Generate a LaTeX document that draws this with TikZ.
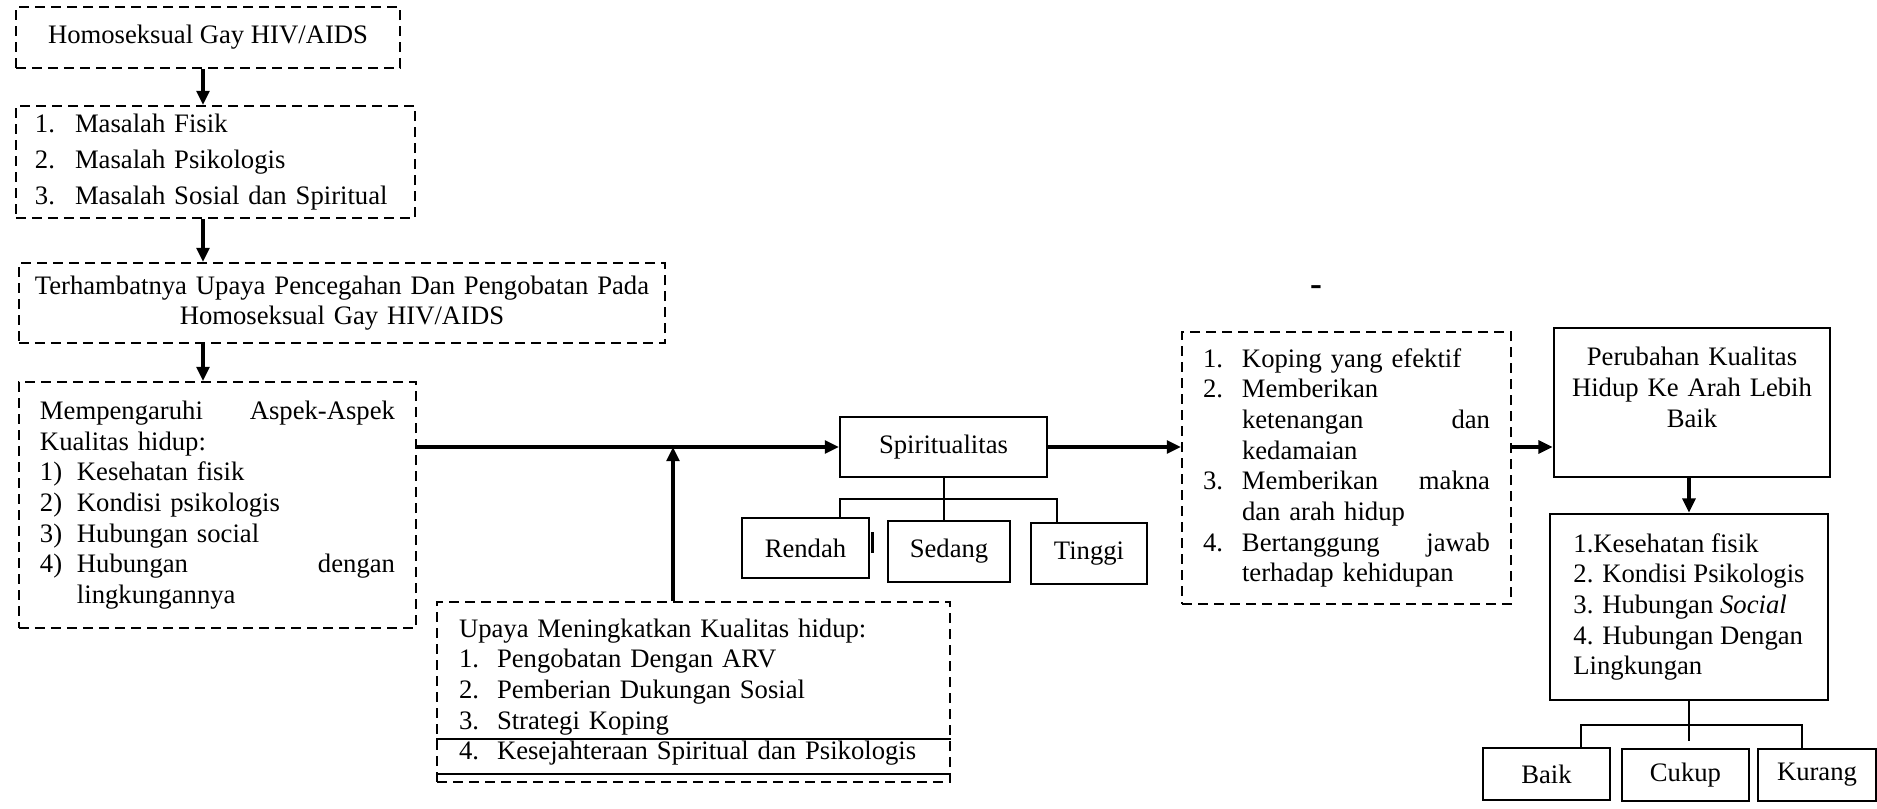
\documentclass[tikz,border=0pt]{standalone}
\usepackage{fontspec}
\setmainfont{Liberation Serif}
\usetikzlibrary{arrows.meta,positioning}

% numbered list entry of fixed label width
\newcommand{\li}[2][16.65pt]{\makebox[#1][l]{#2}}

\begin{document}
\begin{tikzpicture}[
  x=0.45pt,y=-0.45pt,
  every node/.style={font=\fontsize{12}{13.8}\selectfont,inner sep=0pt},
  dashbox/.style={draw,line width=0.9pt,dash pattern=on 4.5pt off 2.7pt},
  plainbox/.style={draw,line width=0.9pt,align=center},
  heavybox/.style={draw,line width=1.2pt},
  arrow/.style={-{Triangle[length=6.4pt,width=5.8pt]},line width=1.5pt},
  branch/.style={line width=0.9pt}
]
  \useasboundingbox (0,0) rectangle (1877,808);

  % left column
  \node[dashbox,minimum width=172.8pt,minimum height=27.45pt] (gay) at (208,37.5)
    {Homoseksual Gay HIV/AIDS};
  \node[dashbox,minimum height=50.4pt,text width=162.45pt,inner xsep=8.55pt,
    align=left,font=\fontsize{12}{16.2}\selectfont] (masalah) at (215.5,162)
    {\li[18pt]{1.}Masalah Fisik\\
     \li[18pt]{2.}Masalah Psikologis\\
     \li[18pt]{3.}Masalah Sosial dan Spiritual};
  \node[dashbox,minimum height=36pt,text width=280pt,inner xsep=5.35pt,
    align=center] (hambat) at (342,303)
    {Terhambatnya Upaya Pencegahan Dan Pengobatan Pada\\Homoseksual Gay HIV/AIDS};
  \node[dashbox,minimum height=110.7pt,text width=159.75pt,inner xsep=9.45pt,
    align=left] (aspek) at (217.5,505)
    {Mempengaruhi \hfill Aspek-Aspek\\
     Kualitas hidup:\\
     \li{1)}Kesehatan fisik\\
     \li{2)}Kondisi psikologis\\
     \li{3)}Hubungan social\\
     \li{4)}Hubungan \hfill dengan\\
     \hspace*{16.65pt}lingkungannya};
  \node[dashbox,minimum height=81pt,text width=211.05pt,inner xsep=9.9pt,
    align=left] (upaya) at (693.5,692)
    {Upaya Meningkatkan Kualitas hidup:\\
     \li[17.1pt]{1.}Pengobatan Dengan ARV\\
     \li[17.1pt]{2.}Pemberian Dukungan Sosial\\
     \li[17.1pt]{3.}Strategi Koping\\
     \li[17.1pt]{4.}Kesejahteraan Spiritual dan Psikologis};

  % spiritualitas and its levels
  \node[plainbox,minimum width=93.15pt,minimum height=27pt] (spirit) at (943.5,447)
    {Spiritualitas};
  \node[plainbox,minimum width=57.15pt,minimum height=27pt] (rendah) at (805.5,548)
    {Rendah};
  \node[plainbox,minimum width=54.9pt,minimum height=27.45pt] (sedang) at (949,551.5)
    {Sedang};
  \node[plainbox,minimum width=52.2pt,minimum height=27.45pt] (tinggi) at (1089,553.5)
    {Tinggi};

  % right part
  \node[font=\fontsize{16}{16}\selectfont\bfseries] (strip) at (1316,291) {-};
  \node[dashbox,minimum height=122.4pt,text width=129.15pt,inner xsep=9.45pt,
    align=left] (koping) at (1346.5,468)
    {\li[17.55pt]{1.}Koping yang efektif\\
     \li[17.55pt]{2.}Memberikan\\
     \hspace*{17.55pt}ketenangan \hfill dan\\
     \hspace*{17.55pt}kedamaian\\
     \li[17.55pt]{3.}Memberikan \hfill makna\\
     \hspace*{17.55pt}dan arah hidup\\
     \li[17.55pt]{4.}Bertanggung \hfill jawab\\
     \hspace*{17.55pt}terhadap kehidupan};
  \node[heavybox,minimum height=67.05pt,text width=112pt,inner xsep=6.1pt,
    align=center] (ubah) at (1692,402.5)
    {Perubahan Kualitas\\Hidup Ke Arah Lebih\\Baik\\\mbox{}};
  \node[heavybox,minimum width=125.1pt,minimum height=83.7pt,
    align=left] (hasil) at (1689,607)
    {1.Kesehatan fisik\\
     2. Kondisi Psikologis\\
     3. Hubungan \textit{Social}\\
     4. Hubungan Dengan\\
     Lingkungan};
  \node[plainbox,minimum width=57.15pt,minimum height=23.4pt] (baik) at (1546.5,774)
    {Baik};
  \node[plainbox,minimum width=57.15pt,minimum height=23.4pt] (cukup) at (1685.5,775)
    {Cukup};
  \node[plainbox,minimum width=53.1pt,minimum height=23.4pt] (kurang) at (1817,775)
    {Kurang};

  % flow down the left column
  \coordinate (spine) at (203,0);
  \draw[arrow] (gay.south -| spine) -- (masalah.north -| spine);
  \draw[arrow] (masalah.south -| spine) -- (hambat.north -| spine);
  \draw[arrow] (hambat.south -| spine) -- (aspek.north -| spine);

  % main line to spiritualitas
  \coordinate (join) at (673,0);
  \draw[arrow] (aspek.east |- spirit.west) -- (spirit.west);
  \draw[arrow] (upaya.north -| join) -- (join |- spirit.west);
  \draw[line width=0.9pt] ([yshift=19.6pt]upaya.south west) -- ([yshift=19.6pt]upaya.south east);
  \draw[line width=0.9pt] ([yshift=4.05pt]upaya.south west) -- ([yshift=4.05pt]upaya.south east);

  % levels of spiritualitas
  \coordinate (sL) at (840,499);
  \coordinate (sR) at (1057,499);
  \draw[branch] (spirit.south) -- (spirit.south |- sL);
  \draw[branch] (rendah.north -| sL) -- (sL) -- (sR) -- (tinggi.north -| sR);
  \draw[branch] (spirit.south |- sL) -- (sedang.north -| spirit.south);
  \draw[line width=1.3pt] ([xshift=1pt,yshift=7.2pt]rendah.east) -- ([xshift=1pt,yshift=-2.25pt]rendah.east);

  % towards better quality of life
  \draw[arrow] (spirit.east) -- (spirit.east -| koping.west);
  \draw[arrow] (spirit.east -| koping.east) -- (spirit.east -| ubah.west);
  \draw[arrow] (ubah.south -| hasil.north) -- (hasil.north);

  % levels of quality of life
  \coordinate (hL) at (1581,725);
  \coordinate (hR) at (1802,725);
  \draw[line width=1.05pt] (hasil.south) -- ([yshift=3.2pt]hasil.south |- cukup.north);
  \draw[line width=1.05pt] (baik.north -| hL) -- (hL) -- (hR) -- (kurang.north -| hR);
\end{tikzpicture}
\end{document}
